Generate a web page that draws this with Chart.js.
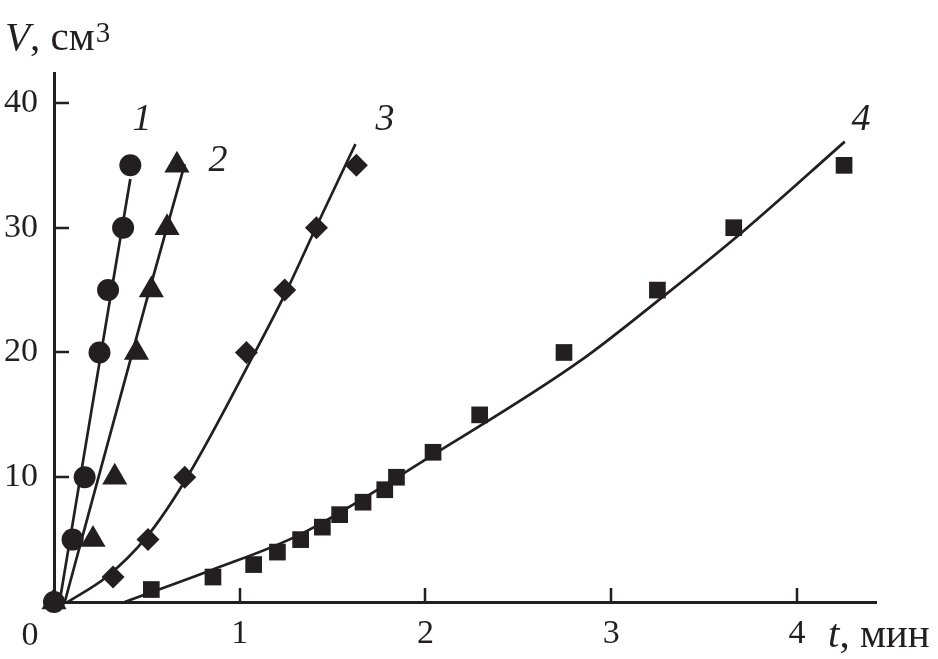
<!DOCTYPE html>
<html><head><meta charset="utf-8">
<script src="https://cdn.jsdelivr.net/npm/chart.js@4/dist/chart.umd.min.js"></script>
<style>html,body{margin:0;padding:0;background:#fff;} #c{display:block;}</style>
</head><body>
<canvas id="c" width="938" height="659"></canvas>
<script>
// ---- data ----
const seriesLabels = ['1', '2', '3', '4'];
// measured points (t, min ; V, cm3)
const t1 = [0, 0.10, 0.165, 0.245, 0.291, 0.372, 0.411];
const v1 = [0, 5, 10, 20, 25, 30, 35];
const t2 = [0, 0.21, 0.327, 0.444, 0.524, 0.609, 0.662];
const v2 = [0, 5, 10, 20, 25, 30, 35];
const t3 = [0.318, 0.506, 0.704, 1.036, 1.242, 1.413, 1.628];
const v3 = [2, 5, 10, 20, 25, 30, 35];
const t4 = [0.524, 0.856, 1.075, 1.203, 1.328, 1.445, 1.538, 1.664, 1.781, 1.844, 2.041, 2.292, 2.746, 3.249, 3.66, 4.254];
const v4 = [1, 2, 3, 4, 5, 6, 7, 8, 9, 10, 12, 15, 20, 25, 30, 35];
// fitted curves
const fit1T = [0.03, 0.30, 0.411];
const fit1V = [0, 24.1, 33.9];
const fit2T = [0.058, 0.497, 0.704];
const fit2V = [0, 24.1, 35.1];
const fit3T = [0.075, 0.282, 0.498, 0.713, 1.085, 1.251, 1.413, 1.623];
const fit3V = [0, 2.0, 5.2, 9.9, 20.1, 24.9, 30.1, 36.7];
const fit4T = [0.381, 0.856, 1.323, 2.041, 2.831, 3.298, 3.71, 4.258];
const fit4V = [0, 2.6, 5.4, 11.8, 19.3, 24.7, 29.7, 36.9];
// axis ticks
const xTicks = [1, 2, 3, 4];
const yTicks = [10, 20, 30, 40];
const originLabel = '0';

const INK = '#231f20';
const pts = (xs, ys) => xs.map((x, i) => ({x: x, y: ys[i]}));

function fitSet(xs, ys) {
  return {data: pts(xs, ys), showLine: true, borderColor: INK, borderWidth: 2.7,
    pointRadius: 0, pointHoverRadius: 0, cubicInterpolationMode: 'monotone', clip: false, order: 2};
}
function markSet(xs, ys, style, r) {
  return {data: pts(xs, ys), showLine: false, pointStyle: style, pointRadius: r, pointHoverRadius: r,
    backgroundColor: INK, borderColor: INK, pointBorderWidth: 0, borderWidth: 0, clip: false, order: 1};
}

const decor = {
  id: 'decor',
  afterDraw(chart) {
    const ctx = chart.ctx;
    const xs = chart.scales.x, ys = chart.scales.y;
    const ca = chart.chartArea;
    ctx.save();
    ctx.strokeStyle = INK; ctx.fillStyle = INK; ctx.lineWidth = 2.5;
    // inner tick marks
    ctx.beginPath();
    xTicks.forEach(v => { const p = Math.round(xs.getPixelForValue(v)); ctx.moveTo(p, ca.bottom); ctx.lineTo(p, ca.bottom - 14); });
    yTicks.forEach(v => { const p = Math.round(ys.getPixelForValue(v)); ctx.moveTo(ca.left, p); ctx.lineTo(ca.left + 15, p); });
    ctx.stroke();
    // shared origin label
    ctx.font = '34px "Liberation Serif"';
    ctx.textAlign = 'right'; ctx.textBaseline = 'alphabetic';
    ctx.fillText(originLabel, 38.5, 645);
    // y title: V, см3
    ctx.textAlign = 'left';
    let x = 5;
    ctx.font = 'italic 41px "Liberation Serif"';
    ctx.fillText('V', x, 50); x += ctx.measureText('V').width;
    ctx.font = '41px "Liberation Serif"';
    ctx.fillText(', см', x, 50); x += ctx.measureText(', см').width;
    ctx.font = '29px "Liberation Serif"';
    ctx.fillText('3', x + 1, 42);
    // x title: t, мин
    x = 828;
    ctx.font = 'italic 41px "Liberation Serif"';
    ctx.fillText('t', x, 647); x += ctx.measureText('t').width;
    ctx.font = '41px "Liberation Serif"';
    ctx.fillText(', мин', x, 647);
    // curve numbers
    ctx.font = 'italic 38px "Liberation Serif"';
    ctx.textAlign = 'center';
    const lp = [[142, 130], [218, 171], [385, 130], [861, 130]];
    seriesLabels.forEach((s, i) => ctx.fillText(s, lp[i][0], lp[i][1]));
    ctx.restore();
  }
};

new Chart(document.getElementById('c'), {
  type: 'scatter',
  data: {
    datasets: [
      fitSet(fit1T, fit1V), fitSet(fit2T, fit2V), fitSet(fit3T, fit3V), fitSet(fit4T, fit4V),
      markSet(t1, v1, 'circle', 11), markSet(t2, v2, 'triangle', 14.5),
      markSet(t3, v3, 'rectRot', 11.5), markSet(t4, v4, 'rect', 11.8)
    ]
  },
  options: {
    responsive: false, animation: false, devicePixelRatio: 1,
    layout: {padding: {top: 73, right: 62, left: 0, bottom: 0}},
    plugins: {legend: {display: false}, tooltip: {enabled: false}},
    scales: {
      x: {
        type: 'linear', min: 0, max: 4.426,
        afterFit: s => { s.height = 57; },
        afterBuildTicks: s => { s.ticks = xTicks.map(v => ({value: v})); },
        grid: {display: true, drawOnChartArea: false, drawTicks: false},
        border: {display: true, color: INK, width: 3},
        ticks: {color: INK, padding: 12, maxRotation: 0, autoSkip: false,
          font: {family: 'Liberation Serif', size: 34}}
      },
      y: {
        type: 'linear', min: 0, max: 42.4,
        afterFit: s => { s.width = 54; },
        afterBuildTicks: s => { s.ticks = yTicks.map(v => ({value: v})); },
        grid: {display: true, drawOnChartArea: false, drawTicks: false},
        border: {display: true, color: INK, width: 3},
        ticks: {color: INK, padding: 16, autoSkip: false,
          font: {family: 'Liberation Serif', size: 34}}
      }
    }
  },
  plugins: [decor]
});
</script>
</body></html>
